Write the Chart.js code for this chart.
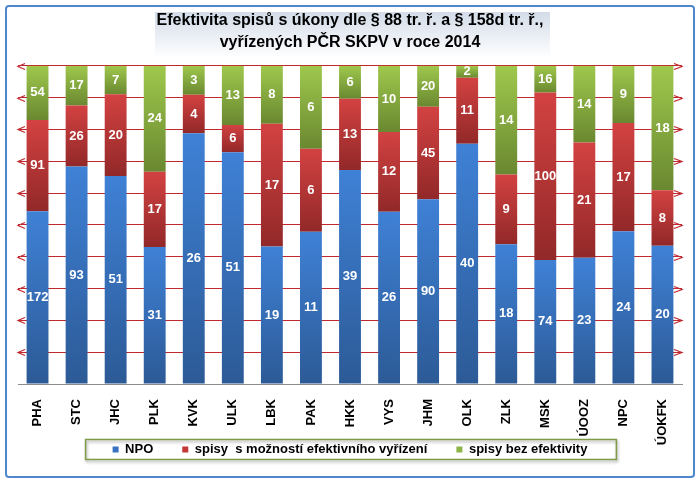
<!DOCTYPE html>
<html>
<head>
<meta charset="utf-8">
<script src="https://cdn.jsdelivr.net/npm/chart.js@4"></script>
<style>
  html, body { margin: 0; padding: 0; background: #fff; }
</style>
</head>
<body>
<canvas id="chart" width="699" height="483"></canvas>
<script>
const kraje = ['PHA','STC','JHC','PLK','KVK','ULK','LBK','PAK','HKK','VYS','JHM','OLK','ZLK','MSK','ÚOOZ','NPC','ÚOKFK'];
const npo = [172,93,51,31,26,51,19,11,39,26,90,40,18,74,23,24,20];
const sMoznosti = [91,26,20,17,4,6,17,6,13,12,45,11,9,100,21,17,8];
const bezEfektivity = [54,17,7,24,3,13,8,6,6,10,20,2,14,16,14,9,18];
const nazvy = ['NPO', 'spisy  s možností efektivního vyřízení', 'spisy bez efektivity'];
const titulek = ['Efektivita spisů s úkony dle § 88 tr. ř. a § 158d tr. ř.,', 'vyřízených PČR SKPV v roce 2014'];

const barvyNahore = ['#3f81d6', '#d34242', '#9fc84d'];
const barvyDole = ['#2c5a96', '#922828', '#6a8830'];
const barvyLegenda = ['#3a72c2', '#c23636', '#8cb446'];

const serie = [npo, sMoznosti, bezEfektivity];
const celkem = npo.map((v, i) => v + sMoznosti[i] + bezEfektivity[i]);
const procenta = serie.map(s => s.map((v, i) => v / celkem[i] * 100));

function prechod(ctx) {
    const chart = ctx.chart;
    const ds = ctx.datasetIndex;
    if (!chart.chartArea || ctx.dataIndex === undefined) return barvyNahore[ds];
    const y = chart.scales.y;
    let zaklad = 0;
    for (let k = 0; k < ds; k++) zaklad += procenta[k][ctx.dataIndex];
    const vrch = zaklad + procenta[ds][ctx.dataIndex];
    const y0 = y.getPixelForValue(zaklad);
    const y1 = y.getPixelForValue(vrch);
    if (!isFinite(y0) || !isFinite(y1) || y0 === y1) return barvyNahore[ds];
    const g = chart.ctx.createLinearGradient(0, y1, 0, y0);
    g.addColorStop(0, barvyNahore[ds]);
    g.addColorStop(1, barvyDole[ds]);
    return g;
}

// ramecek, podklad titulku, sipky na mrizce, popisky, ramecek legendy
const dekorace = {
    id: 'dekorace',
    beforeDraw(chart) {
        const c = chart.ctx;
        c.save();
        c.fillStyle = '#fff';
        c.fillRect(0, 0, chart.width, chart.height);
        const g = c.createLinearGradient(0, 12, 0, 58);
        g.addColorStop(0, '#d3dce8');
        g.addColorStop(1, '#ffffff');
        c.fillStyle = g;
        c.fillRect(155, 12, 395, 46);
        c.restore();
    },
    afterDatasetsDraw(chart) {
        const c = chart.ctx;
        c.save();
        c.font = 'bold 13px "Liberation Sans", Arial, sans-serif';
        c.fillStyle = '#fff';
        c.textAlign = 'center';
        c.textBaseline = 'middle';
        serie.forEach((s, ds) => {
            chart.getDatasetMeta(ds).data.forEach((el, i) => {
                c.fillText(String(s[i]), el.x, (el.y + el.base) / 2);
            });
        });
        c.restore();
    },
    afterDraw(chart) {
        const c = chart.ctx;
        const area = chart.chartArea;
        const y = chart.scales.y;
        c.save();
        c.strokeStyle = '#c0282d';
        c.lineWidth = 1.2;
        y.ticks.forEach(t => {
            if (t.value === 0) return;
            const py = Math.round(y.getPixelForValue(t.value)) + 0.5;
            c.beginPath();
            c.moveTo(area.left + 7, py - 3);
            c.lineTo(area.left, py);
            c.lineTo(area.left + 7, py + 3);
            c.moveTo(area.right - 8, py - 3);
            c.lineTo(area.right, py);
            c.lineTo(area.right - 8, py + 3);
            c.stroke();
        });
        // legenda
        const boxy = chart.legend.legendHitBoxes;
        if (boxy && boxy.length) {
            const l = Math.min(...boxy.map(b => b.left));
            const r = Math.max(...boxy.map(b => b.left + b.width));
            const stred = boxy[0].top + boxy[0].height / 2;
            c.shadowColor = 'rgba(0,0,0,0.35)';
            c.shadowBlur = 3;
            c.shadowOffsetX = 1;
            c.shadowOffsetY = 2;
            c.strokeStyle = '#7f9a48';
            c.lineWidth = 1.5;
            c.beginPath();
            c.rect(l - 27, stred - 10, r - l + 56, 20);
            c.stroke();
            c.shadowColor = 'transparent';
        }
        // vnejsi ramecek
        c.strokeStyle = '#4f86cc';
        c.lineWidth = 2;
        c.beginPath();
        c.roundRect(6, 6, 688, 471, 3);
        c.stroke();
        c.restore();
    }
};

new Chart(document.getElementById('chart'), {
    type: 'bar',
    data: {
        labels: kraje,
        datasets: procenta.map((p, i) => ({
            label: nazvy[i],
            data: p,
            backgroundColor: prechod,
            borderWidth: 0,
            barPercentage: 0.56,
            categoryPercentage: 1
        }))
    },
    options: {
        responsive: false,
        animation: false,
        layout: { padding: { top: 9, left: 18, right: 17, bottom: 17 } },
        plugins: {
            title: {
                display: true,
                text: titulek,
                color: '#000',
                font: { family: '"Liberation Sans", Arial, sans-serif', size: 16, weight: 'bold', lineHeight: 1.4 },
                padding: { top: 0, bottom: 12 }
            },
            legend: {
                position: 'bottom',
                labels: {
                    color: '#000',
                    font: { family: '"Liberation Sans", Arial, sans-serif', size: 13, weight: 'bold' },
                    boxWidth: 6,
                    boxHeight: 6,
                    padding: 29,
                    generateLabels: () => nazvy.map((n, i) => ({
                        text: n,
                        fillStyle: barvyLegenda[i],
                        strokeStyle: barvyLegenda[i],
                        lineWidth: 0,
                        hidden: false,
                        datasetIndex: i
                    }))
                }
            },
            tooltip: { enabled: false }
        },
        scales: {
            x: {
                stacked: true,
                grid: { display: false },
                border: { color: '#8c8c8c', width: 1 },
                ticks: {
                    color: '#000',
                    font: { family: '"Liberation Sans", Arial, sans-serif', size: 13, weight: 'bold' },
                    minRotation: 90,
                    maxRotation: 90,
                    autoSkip: false,
                    padding: 7
                },
                afterFit(scale) {
                    // popisky zasahuji pod osu az k legende
                    scale.height = 30;
                    scale._computeLabelArea = () => undefined;
                }
            },
            y: {
                stacked: true,
                min: 0,
                max: 100,
                ticks: { display: false, stepSize: 10 },
                border: { display: false },
                grid: {
                    drawTicks: false,
                    color: ctx => ctx.tick && ctx.tick.value === 0 ? 'rgba(0,0,0,0)' : '#c0282d',
                    lineWidth: 1
                },
                afterFit(scale) { scale.width = 0; }
            }
        }
    },
    plugins: [dekorace]
});
</script>
</body>
</html>
